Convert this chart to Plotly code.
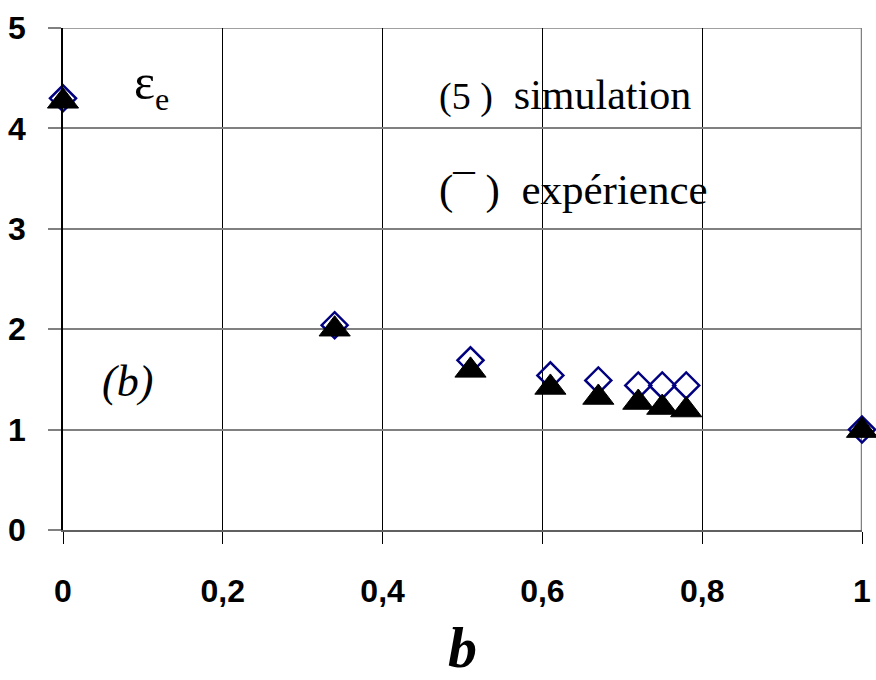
import plotly.graph_objects as go

# Data
b_values = [0.0, 0.34, 0.51, 0.61, 0.67, 0.72, 0.75, 0.78, 1.0]
eps_simulation = [4.30, 2.04, 1.69, 1.54, 1.49, 1.44, 1.44, 1.44, 1.00]
eps_experience = [4.27, 2.00, 1.59, 1.42, 1.32, 1.27, 1.22, 1.195, 0.99]

x_tickvals = [0, 0.2, 0.4, 0.6, 0.8, 1]
x_ticktext = ["0", "0,2", "0,4", "0,6", "0,8", "1"]
y_tickvals = [0, 1, 2, 3, 4, 5]
y_ticktext = ["0", "1", "2", "3", "4", "5"]

fig = go.Figure()
fig.add_trace(go.Scatter(
    x=b_values, y=eps_simulation, mode="markers", name="simulation",
    marker=dict(symbol="diamond-open", size=20, color="#000080",
                line=dict(width=2.5, color="#000080")),
    cliponaxis=False, showlegend=False))
fig.add_trace(go.Scatter(
    x=b_values, y=eps_experience, mode="markers", name="expérience",
    marker=dict(symbol="triangle-up", size=27, color="black",
                line=dict(width=1, color="black")),
    cliponaxis=False, showlegend=False))

tick_font = dict(family="Liberation Sans, Arial", size=32, color="black", weight="bold")
serif = "Liberation Serif, Times New Roman"

fig.update_layout(
    width=876, height=680,
    margin=dict(l=63, r=14, t=28, b=150, autoexpand=False),
    paper_bgcolor="white", plot_bgcolor="white",
    xaxis=dict(range=[0, 1], tickvals=x_tickvals, ticktext=x_ticktext,
               automargin=False,
               showgrid=True, gridcolor="black", gridwidth=1,
               showline=True, linecolor="#606060", linewidth=2,
               ticks="outside", ticklen=12, tickcolor="black", tickwidth=1,
               ticklabelstandoff=20, zeroline=False, tickfont=tick_font,
               title=dict(text="<i><b>b</b></i>",
                          font=dict(family=serif, size=58, color="black"),
                          standoff=28)),
    yaxis=dict(range=[0, 5], tickvals=y_tickvals, ticktext=y_ticktext,
               automargin=False,
               showgrid=True, gridcolor="#808080", gridwidth=1.5,
               showline=True, linecolor="black", linewidth=1.5,
               ticks="outside", ticklen=13, tickcolor="#808080", tickwidth=1.5,
               ticklabelstandoff=16, zeroline=False, tickfont=tick_font),
    shapes=[
        dict(type="line", xref="x", yref="y", x0=1, x1=1, y0=0, y1=5,
             line=dict(color="#808080", width=2.5), layer="below"),
        dict(type="line", xref="x", yref="y", x0=0, x1=1, y0=5, y1=5,
             line=dict(color="#808080", width=1.5), layer="below"),
    ],
    annotations=[
        dict(x=0.086, y=4.43, xref="x", yref="y", showarrow=False, xanchor="left", yanchor="middle",
             text="ε<sub><span style='font-size:32px'>e</span></sub>",
             font=dict(family=serif, size=50, color="black")),
        dict(x=0.468, y=4.33, xref="x", yref="y", showarrow=False, xanchor="left", yanchor="middle",
             text="<span style='font-size:38px'>(5 )</span>  simulation",
             font=dict(family=serif, size=42, color="black")),
        dict(x=0.468, y=3.39, xref="x", yref="y", showarrow=False, xanchor="left", yanchor="middle",
             text="(¯ )  expérience",
             font=dict(family=serif, size=43, color="black")),
        dict(x=0.046, y=1.48, xref="x", yref="y", showarrow=False, xanchor="left", yanchor="middle",
             text="<i>(b)</i>",
             font=dict(family=serif, size=44, color="black")),
    ],
)

fig.write_html("out.html")
